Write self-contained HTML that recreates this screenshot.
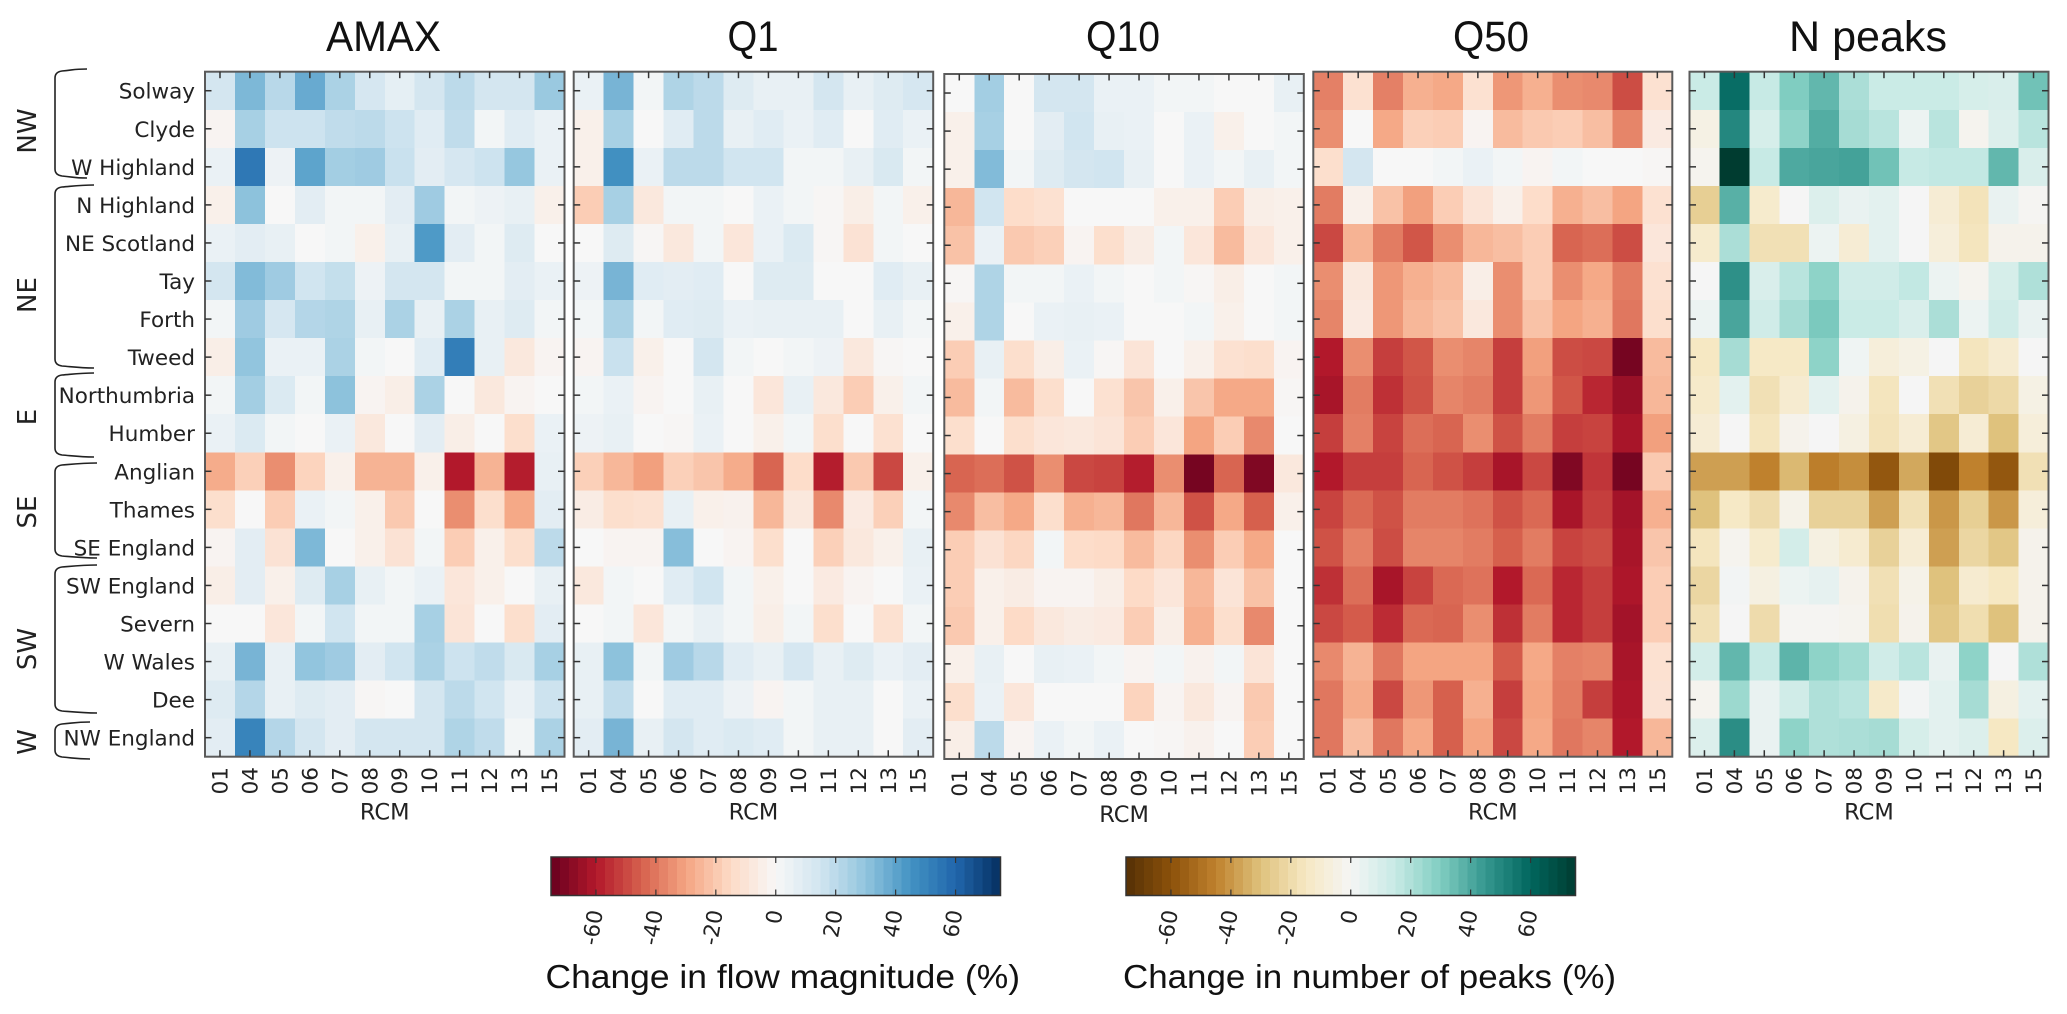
<!DOCTYPE html>
<html lang="en">
<head>
<meta charset="utf-8">
<title>Change in flow magnitude and number of peaks by RCM</title>
<style>
html,body{margin:0;padding:0;background:#fff;}
body{width:2067px;height:1014px;overflow:hidden;}
svg{display:block;}
text{fill:#222;}
.tick{font-family:"DejaVu Sans",sans-serif;font-size:21.5px;}
.axis-title{font-family:"DejaVu Sans",sans-serif;font-size:22.5px;}
.group{font-family:"DejaVu Sans",sans-serif;font-size:26px;}
.title{font-family:"Liberation Sans",sans-serif;font-size:43px;fill:#111;}
.cbtitle{font-family:"Liberation Sans",sans-serif;font-size:33px;fill:#111;}
</style>
</head>
<body>
<svg id="chart" xmlns="http://www.w3.org/2000/svg" width="2067" height="1014" viewBox="0 0 2067 1014"></svg>
<script>
const catchments = ["Solway","Clyde","W Highland","N Highland","NE Scotland","Tay","Forth","Tweed","Northumbria","Humber","Anglian","Thames","SE England","SW England","Severn","W Wales","Dee","NW England"];
const rcmLabels = ["01","04","05","06","07","08","09","10","11","12","13","15"];
const colorbarTicks = [-60,-40,-20,0,20,40,60];
const amaxValues = [
[14,34,21,38,24,13,7,14,20,14,14,28],
[-2,25,16,16,19,20,16,9,19,2,9,5],
[5,54,4,40,26,27,17,8,13,16,29,5],
[-4,31,0,8,2,2,8,27,2,4,6,-4],
[5,8,6,0,2,-4,6,43,8,2,10,0],
[14,33,27,15,18,4,14,14,2,2,8,5],
[2,27,13,22,23,6,24,6,24,6,10,2],
[-5,30,5,5,24,2,0,9,52,6,-8,-2],
[2,26,11,2,31,-2,-5,24,0,-8,-2,0],
[5,11,2,0,5,-8,0,8,-5,0,-13,5],
[-28,-18,-35,-17,-4,-26,-26,-4,-60,-26,-59,6],
[-13,0,-19,5,2,-4,-20,0,-35,-13,-29,8],
[-2,8,-11,34,0,-4,-11,2,-19,-4,-13,20],
[-5,8,-4,10,25,6,2,5,-9,-4,0,6],
[0,0,-9,2,15,2,2,25,-10,0,-13,8],
[6,35,6,30,27,8,15,24,16,19,12,25],
[10,22,6,10,8,-1,0,14,20,15,5,16],
[8,50,22,14,8,14,14,14,23,19,2,24]
];
const q1Values = [
[5,35,2,23,20,10,6,6,14,6,10,13],
[-4,25,0,9,20,6,9,5,9,0,9,5],
[-4,46,5,20,20,15,15,2,2,6,12,2],
[-19,25,-8,2,2,0,5,2,-1,-5,2,-4],
[0,10,-1,-8,2,-9,5,11,-1,-11,2,0],
[4,35,9,8,9,0,10,10,0,0,9,6],
[2,24,2,9,10,5,6,6,6,0,6,2],
[-2,17,-4,0,14,2,0,2,4,-8,-1,0],
[2,5,-2,0,6,0,-9,6,-8,-19,-4,2],
[4,6,0,-1,5,0,-4,2,-13,0,-12,0],
[-18,-25,-31,-18,-21,-28,-44,-14,-59,-20,-50,-4],
[-6,-13,-12,6,-4,-3,-25,-8,-36,-7,-18,2],
[0,-2,-2,32,0,-2,-13,0,-18,-8,-4,6],
[-8,2,0,9,15,2,-4,0,-7,-2,0,5],
[0,2,-9,2,6,2,-5,2,-13,0,-12,2],
[6,31,2,27,21,9,6,13,6,10,5,8],
[6,19,0,9,9,4,-2,2,6,6,0,5],
[8,35,6,14,9,11,9,2,6,6,0,8]
];
const q10Values = [
[0,26,0,14,14,5,5,2,2,0,0,6],
[-4,25,0,8,15,6,5,0,5,-4,0,2],
[-4,33,2,10,14,15,6,0,5,2,6,2],
[-25,15,-14,-12,0,0,0,-4,-4,-19,-5,-4],
[-22,5,-20,-18,-2,-13,-6,2,-9,-24,-9,-4],
[-1,23,2,2,5,2,0,2,-1,-5,0,2],
[-4,23,0,5,6,5,0,0,2,-4,0,2],
[-19,6,-13,-5,5,-1,-10,0,-4,-12,-13,-2],
[-24,2,-24,-13,0,-12,-21,-4,-21,-29,-29,-1],
[-13,0,-13,-9,-8,-10,-19,-9,-30,-19,-36,0],
[-44,-42,-48,-35,-50,-51,-59,-35,-72,-44,-70,-8],
[-36,-23,-29,-13,-27,-25,-40,-25,-48,-29,-45,-4],
[-19,-11,-16,2,-14,-15,-24,-16,-35,-19,-29,0],
[-19,-4,-6,-2,-2,-5,-15,-9,-25,-10,-22,0],
[-20,-4,-15,-8,-6,-7,-19,-5,-27,-13,-36,0],
[-4,6,0,6,5,2,-2,2,-3,2,-10,0],
[-13,5,-9,0,0,0,-17,-2,-8,-2,-20,0],
[-5,20,-2,5,2,5,0,-1,-3,0,-19,0]
];
const q50Values = [
[-38,-12,-38,-27,-29,-12,-33,-27,-35,-36,-49,-12],
[-35,0,-29,-18,-19,-2,-24,-20,-19,-23,-37,-7],
[-13,14,0,0,2,5,2,-2,2,0,0,-1],
[-39,-4,-22,-31,-19,-10,-4,-14,-27,-23,-30,-12],
[-50,-26,-39,-47,-35,-25,-23,-19,-44,-42,-49,-9],
[-35,-8,-33,-27,-24,-5,-35,-19,-35,-29,-39,-12],
[-37,-7,-33,-25,-22,-8,-35,-22,-30,-27,-40,-13],
[-60,-35,-52,-47,-35,-37,-52,-31,-49,-50,-72,-24],
[-62,-39,-55,-48,-37,-39,-52,-33,-47,-57,-65,-25],
[-52,-38,-51,-42,-44,-35,-48,-39,-52,-51,-62,-31],
[-60,-52,-52,-44,-48,-52,-62,-50,-70,-54,-72,-20],
[-51,-43,-48,-39,-39,-41,-48,-43,-62,-52,-63,-27],
[-48,-38,-49,-37,-37,-39,-45,-39,-51,-49,-62,-21],
[-55,-42,-62,-51,-43,-41,-60,-43,-57,-52,-61,-19],
[-50,-46,-56,-43,-44,-35,-55,-39,-57,-52,-63,-19],
[-36,-26,-40,-30,-30,-30,-46,-29,-38,-37,-62,-12],
[-40,-28,-50,-33,-45,-27,-52,-30,-39,-52,-61,-11],
[-40,-23,-40,-29,-45,-30,-50,-29,-40,-37,-60,-25]
];
const npeaksValues = [
[14,58,15,30,36,21,14,14,14,10,9,33],
[-5,50,10,27,39,22,18,3,18,-2,8,18],
[-2,75,15,40,41,42,33,15,16,16,36,9],
[-25,38,-12,0,8,4,6,0,-10,-17,4,-1],
[-12,21,-18,-18,3,-10,6,0,-8,-16,-3,-3],
[0,47,9,18,27,12,12,16,3,-2,10,20],
[3,41,12,22,31,14,14,9,21,3,12,4],
[-15,22,-14,-14,27,2,-8,-5,0,-16,-11,0],
[-13,6,-18,-11,6,-3,-16,0,-18,-24,-21,-5],
[-10,0,-16,-3,0,-6,-17,-10,-28,-10,-30,-8],
[-38,-38,-45,-32,-46,-42,-58,-36,-63,-45,-58,-18],
[-30,-14,-20,-4,-24,-24,-38,-18,-40,-25,-40,-8],
[-16,-2,-12,11,-6,-11,-24,-10,-38,-22,-28,-3],
[-22,1,-6,3,5,-3,-18,-4,-30,-11,-15,-3],
[-18,0,-20,-1,-1,-2,-19,-3,-28,-19,-30,-3],
[11,36,15,37,27,23,12,18,4,27,0,20],
[-2,24,4,12,20,18,-13,1,6,22,-6,6],
[8,48,4,27,20,21,22,10,6,8,-15,8]
];

/* ---------- scales & styles (not data) ---------- */
const RDBU = ["#67001f","#b2182b","#d6604d","#f4a582","#fddbc7","#f7f7f7","#d1e5f0","#92c5de","#4393c3","#2166ac","#053061"];
const BRBG = ["#543005","#8c510a","#bf812d","#dfc27d","#f6e8c3","#f5f5f5","#c7eae5","#80cdc1","#35978f","#01665e","#003c30"];
const VMIN = -75, VMAX = 75, NROWS = catchments.length, NCOLS = rcmLabels.length;
function hexRgb(h){return [1,3,5].map(i=>parseInt(h.substr(i,2),16));}
function colorScale(stops,v){
  let t=(v-VMIN)/(VMAX-VMIN);
  t=Math.max(0,Math.min(1,t))*(stops.length-1);
  const i=Math.min(Math.floor(t),stops.length-2),f=t-i;
  const a=hexRgb(stops[i]),b=hexRgb(stops[i+1]);
  return "rgb("+a.map((c,k)=>Math.round(c+(b[k]-c)*f)).join(",")+")";
}
const NS="http://www.w3.org/2000/svg";
const svg=document.getElementById("chart");
function mk(tag,attrs,parent,txt){
  const e=document.createElementNS(NS,tag);
  for(const k in attrs)e.setAttribute(k,attrs[k]);
  if(txt!==undefined)e.textContent=txt;
  (parent||svg).appendChild(e);
  return e;
}
const SPINE="#5a5a5a", TICK="#333";

function drawPanel(cfg){
  const g=mk("g",{});
  
  
  const xScale=i=>cfg.x+i*cfg.w/NCOLS;
  const yScale=j=>cfg.y+j*cfg.h/NROWS;
  const cw=cfg.w/NCOLS, ch=cfg.h/NROWS;
  cfg.values.forEach((row,j)=>{
    row.forEach((v,i)=>{
      const cell=mk("rect",{x:xScale(i),y:yScale(j),width:cw+0.4,height:ch+0.4,fill:colorScale(cfg.cmap,v),"shape-rendering":"crispEdges"},g);
      
      
    });
  });
  const frame=mk("rect",{x:cfg.x,y:cfg.y,width:cfg.w,height:cfg.h,fill:"none",stroke:SPINE,"stroke-width":2},g);
  
  
  const tl=6.5;
  rcmLabels.forEach((lab,i)=>{
    const cx=xScale(i)+cw/2;
    mk("line",{x1:cx,x2:cx,y1:cfg.y,y2:cfg.y+tl,stroke:TICK,"stroke-width":1.5},g);
    mk("line",{x1:cx,x2:cx,y1:cfg.y+cfg.h,y2:cfg.y+cfg.h-tl,stroke:TICK,"stroke-width":1.5},g);
    const ty=cfg.y+cfg.h+24;
    const t=mk("text",{class:"tick",x:cx+7.5,y:ty,transform:"rotate(-90 "+(cx+7.5)+" "+ty+")","text-anchor":"middle"},g,lab);
    
    
  });
  catchments.forEach((lab,j)=>{
    const cy=yScale(j)+ch/2;
    mk("line",{x1:cfg.x,x2:cfg.x+tl,y1:cy,y2:cy,stroke:TICK,"stroke-width":1.5},g);
    mk("line",{x1:cfg.x+cfg.w,x2:cfg.x+cfg.w-tl,y1:cy,y2:cy,stroke:TICK,"stroke-width":1.5},g);
    if(cfg.showY){
      const t=mk("text",{class:"tick",x:cfg.x-10,y:cy+8,"text-anchor":"end"},g,lab);
      
      
    }
  });
  const xl=mk("text",{class:"axis-title",x:cfg.x+cfg.w/2,y:cfg.y+cfg.h+63,"text-anchor":"middle"},g,"RCM");
  
  
  const ti=mk("text",{class:"title",x:cfg.tx,y:51,"text-anchor":"middle",textLength:cfg.tl,lengthAdjust:"spacingAndGlyphs"},g,cfg.title);
  
  
}
drawPanel({name:"amax",title:"AMAX",values:amaxValues,cmap:RDBU,x:205,y:71.7,w:359.5,h:685,tx:383.5,tl:115,showY:true});
drawPanel({name:"q1",title:"Q1",values:q1Values,cmap:RDBU,x:573.7,y:71.7,w:359.5,h:685,tx:753,tl:51});
drawPanel({name:"q10",title:"Q10",values:q10Values,cmap:RDBU,x:944.3,y:74,w:359.5,h:685,tx:1123,tl:74});
drawPanel({name:"q50",title:"Q50",values:q50Values,cmap:RDBU,x:1313.3,y:71.7,w:359,h:685,tx:1491,tl:76});
drawPanel({name:"n-peaks",title:"N peaks",values:npeaksValues,cmap:BRBG,x:1689.5,y:71.7,w:359,h:685,tx:1868,tl:158});

/* ---------- region brackets ---------- */
const regionNames=["NW","NE","E","SE","SW","W"];
function drawBracket(name,top,bot,right,labelY){
  const b=mk("path",{d:"M"+right+" "+top+" C"+(right-14)+" "+top+" 74 "+(top+1)+" 62 "+(top+2)+" Q55 "+(top+3)+" 55 "+(top+9)+" L55 "+(bot-9)+" Q55 "+(bot-3)+" 62 "+(bot-2)+" C74 "+(bot-1)+" "+(right-14)+" "+bot+" "+right+" "+bot,fill:"none",stroke:"#222","stroke-width":1.6});
  
  
  const t=mk("text",{class:"group",x:36,y:labelY,transform:"rotate(-90 36 "+labelY+")","text-anchor":"middle"},svg,name);
  
  
}
drawBracket(regionNames[0],69,178,87,131);
drawBracket(regionNames[1],185,368,94,295);
drawBracket(regionNames[2],373,457,94,417);
drawBracket(regionNames[3],463,558,97,512);
drawBracket(regionNames[4],565,713,97,649);
drawBracket(regionNames[5],722,759,90,742);

/* ---------- colour bars ---------- */
function drawColorbar(cfg){
  const g=mk("g",{});
  
  
  const cbX=v=>cfg.x+(v-VMIN)/(VMAX-VMIN)*cfg.w;
  for(let v=VMIN;v<VMAX;v+=3){
    const seg=mk("rect",{x:cbX(v),y:cfg.y,width:cbX(v+3)-cbX(v)+0.5,height:cfg.h,fill:colorScale(cfg.cmap,v+1.5),"shape-rendering":"crispEdges"},g);
    
    
  }
  mk("rect",{x:cfg.x,y:cfg.y,width:cfg.w,height:cfg.h,fill:"none",stroke:"#333","stroke-width":1.5},g);
  colorbarTicks.forEach(v=>{
    const cx=cbX(v);
    mk("line",{x1:cx,x2:cx,y1:cfg.y+cfg.h,y2:cfg.y+cfg.h-6,stroke:"#333","stroke-width":1.2},g);
    mk("line",{x1:cx,x2:cx,y1:cfg.y,y2:cfg.y+6,stroke:"#333","stroke-width":1.2},g);
    const ly=cfg.y+cfg.h+16;
    const t=mk("text",{class:"tick",x:cx+7,y:ly,transform:"rotate(-80 "+(cx+7)+" "+ly+")","text-anchor":"end"},g,String(v));
    
    
  });
  const ti=mk("text",{class:"cbtitle",x:cfg.tx,y:988,textLength:cfg.tw,lengthAdjust:"spacingAndGlyphs"},g,cfg.title);
  
  
}
drawColorbar({name:"flow-colorbar",title:"Change in flow magnitude (%)",cmap:RDBU,x:551,y:857,w:449.5,h:38.5,tx:545.5,tw:474.5});
drawColorbar({name:"peaks-colorbar",title:"Change in number of peaks (%)",cmap:BRBG,x:1126,y:857,w:449.5,h:38.5,tx:1123,tw:493});
</script>
</body>
</html>
